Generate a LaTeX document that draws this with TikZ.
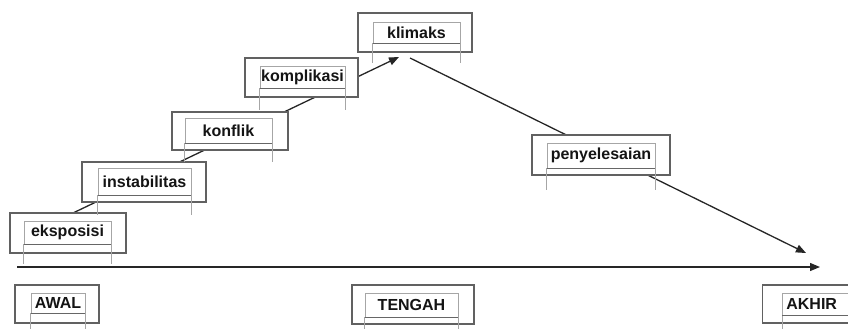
\documentclass[tikz,border=0pt]{standalone}
\usepackage{fontspec}
\setmainfont{Liberation Sans}
\usetikzlibrary{arrows.meta}
\begin{document}
\begin{tikzpicture}[x=1pt,y=-1pt,
  outerbox/.style={draw=black!62, line width=1.2pt, fill=white, inner sep=0pt},
  innerbox/.style={draw=black!35, line width=0.7pt, inner sep=0pt,
    font=\fontsize{16}{18}\selectfont\bfseries, text=black!92},
  ext/.style={draw=black!35, line width=0.7pt},
  base/.style={draw=black!60, line width=0.9pt},
  conn/.style={draw=black!85, line width=1.3pt, -{Triangle[length=10pt,width=8pt]}}]
\useasboundingbox (0,0) rectangle (848,329);
% connector end points
\coordinate (riseS) at (73,213);
\coordinate (riseE) at (399,57);
\coordinate (fallS) at (410,58);
\coordinate (fallE) at (806,253);
\coordinate (axisS) at (17,267);
\coordinate (axisE) at (820,267);
\draw[conn] (riseS) -- (riseE);
\draw[conn] (fallS) -- (fallE);
\draw[conn] (axisS) -- (axisE);
% stages
\node[outerbox, minimum width=116pt, minimum height=40pt] (eksO) at (68,233) {};
\node[innerbox, minimum width=87pt, minimum height=23pt] (eks) at (67.5,232.5) {eksposisi};
\node[outerbox, minimum width=124pt, minimum height=40pt] (insO) at (144,182) {};
\node[innerbox, minimum width=93pt, minimum height=27pt] (ins) at (144.5,181.5) {instabilitas};
\node[outerbox, minimum width=116pt, minimum height=38pt] (konO) at (230,131) {};
\node[innerbox, minimum width=87pt, minimum height=25pt] (kon) at (228.5,130.5) {konflik};
\node[outerbox, minimum width=113pt, minimum height=39pt] (komO) at (301.5,77.5) {};
\node[innerbox, minimum width=85pt, minimum height=22pt] (kom) at (302.5,77) {komplikasi};
\node[outerbox, minimum width=114pt, minimum height=39pt] (kliO) at (415,32.5) {};
\node[innerbox, minimum width=87pt, minimum height=21pt] (kli) at (416.5,32.5) {klimaks};
\node[outerbox, minimum width=138pt, minimum height=40pt] (penO) at (601,155) {};
\node[innerbox, minimum width=108pt, minimum height=25pt] (pen) at (601,155.5) {penyelesaian};
\node[outerbox, minimum width=84pt, minimum height=38pt] (awaO) at (57,304) {};
\node[innerbox, minimum width=54pt, minimum height=20pt] (awa) at (58,303) {AWAL};
\node[outerbox, minimum width=122pt, minimum height=39pt] (tenO) at (413,304.5) {};
\node[innerbox, minimum width=93pt, minimum height=24pt] (ten) at (411.5,305) {TENGAH};
\node[outerbox, minimum width=100pt, minimum height=38pt, anchor=west] (akhO) at (762,304) {};
\node[innerbox, minimum height=22pt, inner xsep=4pt, text width=60pt, align=left, anchor=west] (akh) at (782,304) {AKHIR};
% extension lines below inner boxes, darker bottom edge
\foreach \n/\l in {eks/20, ins/20, kon/19, kom/22, kli/20, pen/22, awa/20, ten/20, akh/20}{
  \draw[ext] (\n.south west) -- ++(0,\l);
  \draw[ext] (\n.south east) -- ++(0,\l);
  \draw[base] (\n.south west) -- (\n.south east);
}
\end{tikzpicture}
\end{document}
